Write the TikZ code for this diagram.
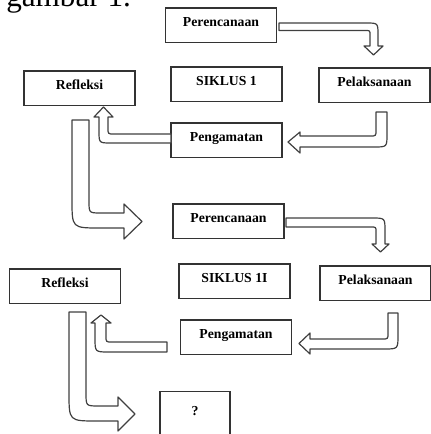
\documentclass[tikz,border=0pt]{standalone}
\usepackage{fontspec}
\setmainfont{Liberation Serif}
\usetikzlibrary{calc,decorations.pathmorphing}

\newlength\wavelen
\newcommand\boxfont{\fontsize{10.3}{12}\selectfont\bfseries}
% red spell-check wave under the text of a node
\newcommand\redwave[2]{\settowidth\wavelen{\boxfont #2}%
  \draw[spell] ($(#1.base)+(-0.5\wavelen,2.6pt)$) -- ++(\wavelen,0pt);}
\newcommand\stagebox[3]{\node[stage] (#1) at (#2) {#3}; \redwave{#1}{#3}}

\tikzset{
  stage/.style={draw=black!80, line width=0.9pt, font=\boxfont, inner sep=0pt,
    minimum width=83.25pt, text height=14pt, text depth=12pt},
  blockarrow/.style={draw=black!75, line width=0.9pt, fill=white, line join=round},
  spell/.style={red, line width=0.55pt, decorate,
    decoration={snake, amplitude=0.7pt, segment length=2.4pt}},
}

\begin{document}
\begin{tikzpicture}[x=0.75pt,y=0.75pt,yscale=-1,xscale=1]
\useasboundingbox (0,0) rectangle (430,434);

% Text Node: cut caption
\node [anchor=base west, inner sep=0pt, font=\fontsize{23.4}{28}\selectfont] (caption) at (6,7) {gambar 1.};

%Siklus 1
\stagebox{per1}{221,25.3}{Perencanaan}
\node [stage] (sik1) at (226.5,84.3) {SIKLUS 1};
\stagebox{ref1}{79.5,88.3}{Refleksi}
\stagebox{pel1}{374.5,85.3}{Pelaksanaan}
\stagebox{pen1}{226.5,140.3}{Pengamatan}

%Siklus 2
\stagebox{per2}{228.5,221.3}{Perencanaan}
\node [stage] (sik2) at (234.5,281.3) {SIKLUS 1I};
\stagebox{ref2}{65,286.3}{Refleksi}
\stagebox{pel2}{375.5,283.3}{Pelaksanaan}
\stagebox{pen2}{236,337.3}{Pengamatan}

%Shape: next cycle
\node [stage, anchor=north, minimum width=52.5pt, text height=18pt, text depth=30pt] (next) at (195,391) {?};

%Shape: Bent Arrow [perencanaan -> pelaksanaan]
\draw [blockarrow] (279,23) -- (366,23) .. controls (378,23) .. (378,35) -- (378,46) -- (383,46) -- (373.5,55) -- (364,46) -- (370,46) -- (370,35) .. controls (370,30.5) .. (365,30.5) -- (279,30.5) -- cycle;
%Shape: Bent Arrow [pelaksanaan -> pengamatan]
\draw [blockarrow] (376,112) -- (387,112) -- (387,134) .. controls (387,147) .. (374,147) -- (300,147) -- (300,153) -- (288,142) -- (300,132) -- (300,136) -- (370,136) .. controls (376,136) .. (376,130) -- cycle;
%Shape: Bent Arrow [pengamatan -> refleksi]
\draw [blockarrow] (171,134) -- (114,134) .. controls (108,134) .. (108,128) -- (108,117) -- (113,117) -- (103.5,107) -- (94,117) -- (99,117) -- (99,131) .. controls (99,143) .. (111,143) -- (171,143) -- cycle;
%Shape: Bent Arrow [refleksi -> perencanaan]
\draw [blockarrow] (72,120) -- (89,120) -- (89,201) .. controls (89,213) .. (101,213) -- (124,213) -- (124,204) -- (142,221.5) -- (124,239) -- (124,228) -- (100,228) .. controls (72,228) .. (72,200) -- cycle;

%Shape: Bent Arrow [perencanaan -> pelaksanaan]
\draw [blockarrow] (286,218) -- (372,218) .. controls (385,218) .. (385,231) -- (385,244) -- (389,244) -- (380.5,252) -- (372,244) -- (376,244) -- (376,232) .. controls (376,227) .. (371,227) -- (286,227) -- cycle;
%Shape: Bent Arrow [pelaksanaan -> pengamatan]
\draw [blockarrow] (388,313) -- (398,313) -- (398,335) .. controls (398,349) .. (384,349) -- (310,349) -- (310,354) -- (299,343.5) -- (310,333) -- (310,339) -- (382,339) .. controls (388,339) .. (388,333) -- cycle;
%Shape: Bent Arrow [pengamatan -> refleksi]
\draw [blockarrow] (167,342) -- (112,342) .. controls (106,342) .. (106,336) -- (106,323) -- (111,323) -- (101,315) -- (91,323) -- (95,323) -- (95,338) .. controls (95,352) .. (109,352) -- (167,352) -- cycle;
%Shape: Bent Arrow [refleksi -> ?]
\draw [blockarrow] (69,312) -- (86,312) -- (86,393) .. controls (86,406) .. (99,406) -- (118,406) -- (118,397) -- (135,414) -- (118,431) -- (118,421) -- (97,421) .. controls (69,421) .. (69,393) -- cycle;

\end{tikzpicture}
\end{document}
